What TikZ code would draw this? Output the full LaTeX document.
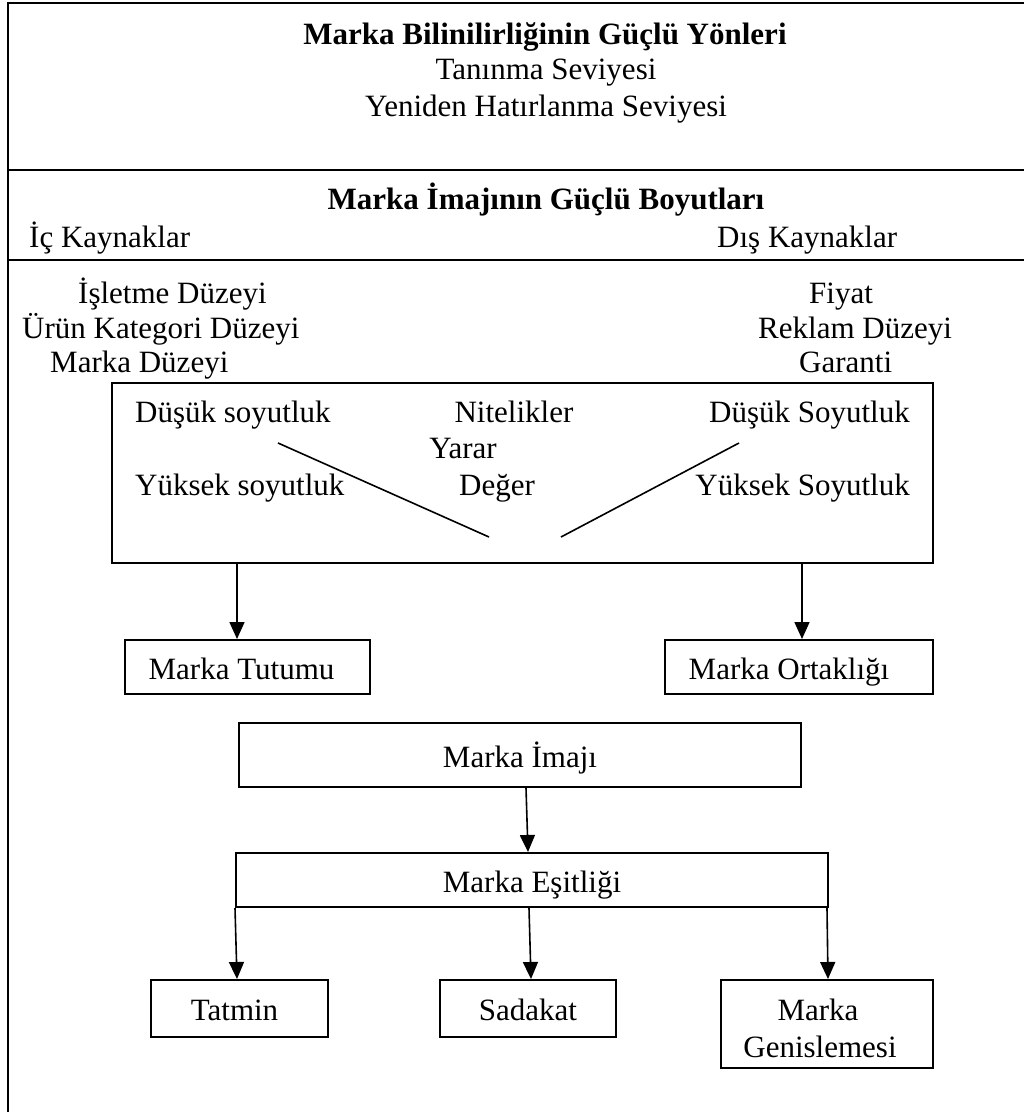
\documentclass[tikz,border=0pt]{standalone}
\usepackage{fontspec}
\setmainfont{Liberation Serif}
\usetikzlibrary{arrows.meta}
\begin{document}
\fontsize{31}{37}\selectfont
\begin{tikzpicture}[x=1pt,y=-1pt,
  frame/.style={line width=2.6pt},
  txt/.style={inner sep=0pt,anchor=base},
  txtl/.style={inner sep=0pt,anchor=base west},
  txtr/.style={inner sep=0pt,anchor=base east},
  box/.style={draw,line width=2pt,inner sep=0pt,align=center},
  onel/.style={text height=26pt,text depth=2pt},
  arr/.style={line width=1.6pt,-{Triangle[length=17pt,width=15pt]}},
  slope/.style={line width=1.6pt}]
\useasboundingbox (0,0) rectangle (1024,1112);

% outer frame and the two dividing rules
\draw[frame] (1024,3) -- (8,3) -- (8,1112);
\draw[frame] (8,170) -- (1024,170);
\draw[frame] (8,260) -- (1024,260);

% section 1
\node[txt,font=\bfseries] (t1) at (545,44) {Marka Bilinilirliğinin Güçlü Yönleri};
\node[txt] (t2) at (546,79) {Tanınma Seviyesi};
\node[txt] (t3) at (546,116) {Yeniden Hatırlanma Seviyesi};

% section 2
\node[txt,font=\bfseries] (s1) at (546,209) {Marka İmajının Güçlü Boyutları};
\node[txtl] (ic) at (29,247) {İç Kaynaklar};
\node[txtl] (dis) at (717,247) {Dış Kaynaklar};

% section 3: sources
\node[txtl] (l1) at (78,303) {İşletme Düzeyi};
\node[txtl] (l2) at (22,338) {Ürün Kategori Düzeyi};
\node[txtl] (l3) at (50,372) {Marka Düzeyi};
\node[txtl] (r1) at (809,303) {Fiyat};
\node[txtl] (r2) at (758,338) {Reklam Düzeyi};
\node[txtl] (r3) at (799,372) {Garanti};

% abstraction box
\node[box,minimum width=821pt,minimum height=180pt] (inner) at (522.5,473) {};
\node[txtl] (a1) at (135,422) {Düşük soyutluk};
\node[txt]  (a2) at (514,422) {Nitelikler};
\node[txtr] (a3) at (910,422) {Düşük Soyutluk};
\node[txt]  (a4) at (463,458) {Yarar};
\node[txtl] (a5) at (135,495) {Yüksek soyutluk};
\node[txt]  (a6) at (497,495) {Değer};
\node[txtr] (a7) at (910,495) {Yüksek Soyutluk};
\coordinate (vl1) at (278,443);
\coordinate (vl2) at (489,537);
\coordinate (vr1) at (739,443);
\coordinate (vr2) at (561,537);
\draw[slope] (vl1) -- (vl2);
\draw[slope] (vr1) -- (vr2);

% outcome boxes
\node[box,onel,minimum width=245pt,minimum height=54pt] (tutum) at (247.5,667) {Marka Tutumu\hspace*{12pt}};
\node[box,onel,minimum width=268pt,minimum height=54pt] (ortak) at (799,667) {Marka Ortaklığı\hspace*{20pt}};
\node[box,onel,minimum width=562pt,minimum height=64pt] (imaj) at (520,755) {Marka İmajı};
\node[box,onel,minimum width=592pt,minimum height=54pt] (esit) at (532,880) {Marka Eşitliği};
\node[box,onel,minimum width=177pt,minimum height=57pt] (tatmin) at (239.5,1008.5) {Tatmin\hspace*{10pt}};
\node[box,onel,minimum width=176pt,minimum height=57pt] (sadakat) at (528,1008.5) {Sadakat};
\node[box,minimum width=212pt,minimum height=88pt] (genis) at (827,1024) {\rule{0pt}{30pt}Marka\hspace*{18pt}\\Genislemesi\hspace*{14pt}};

% connectors
\coordinate (c1) at ([xshift=-10.5pt]tutum.north);
\coordinate (c2) at ([xshift=3pt]ortak.north);
\draw[arr] (c1 |- inner.south) -- (c1);
\draw[arr] (c2 |- inner.south) -- (c2);
\draw[arr] ([xshift=6pt]imaj.south) -- ([xshift=-4pt]esit.north);
\draw[arr] (esit.south west) -- ([xshift=-2.5pt]tatmin.north);
\draw[arr] ([xshift=-3pt]esit.south) -- ([xshift=3pt]sadakat.north);
\draw[arr] ([xshift=-2pt]esit.south east) -- ([xshift=1pt]genis.north);
\end{tikzpicture}
\end{document}
